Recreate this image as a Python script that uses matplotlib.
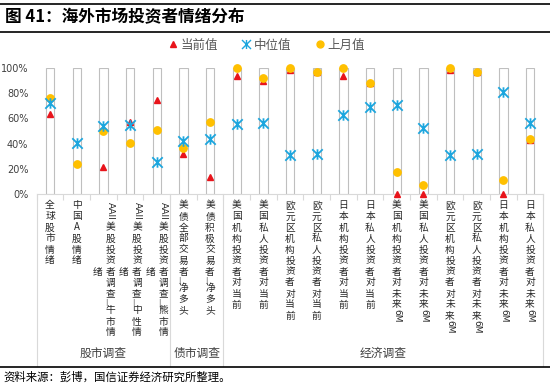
import re
import numpy as np
import matplotlib
matplotlib.use("Agg")
import matplotlib.pyplot as plt
from matplotlib.path import Path
from matplotlib.lines import Line2D
from matplotlib import transforms

plt.rcParams['font.family'] = ['Noto Sans CJK SC', 'DejaVu Sans']

# categories (x axis, level 1) and survey groups (level 2)
categories = [
    "全球股市情绪", "中国A股情绪",
    "AAII美股投资者调查_牛市情绪", "AAII美股投资者调查_中性情绪", "AAII美股投资者调查_熊市情绪",
    "美债全部交易者_净多头", "美债积极交易者_净多头",
    "美国机构投资者对当前", "美国私人投资者对当前",
    "欧元区机构投资者对当前", "欧元区私人投资者对当前",
    "日本机构投资者对当前", "日本私人投资者对当前",
    "美国机构投资者对未来6M", "美国私人投资者对未来6M",
    "欧元区机构投资者对未来6M", "欧元区私人投资者对未来6M",
    "日本机构投资者对未来6M", "日本私人投资者对未来6M",
]
groups = ["股市调查", "债市调查", "经济调查"]
group_sizes = [5, 2, 12]

nan = np.nan
# 当前值
current = [0.635, nan, 0.214, 0.574, 0.746, 0.315, 0.137, 0.939, 0.897, 0.984, 0.97,
           0.939, 0.884, 0.0, 0.0, 0.984, 0.97, 0.0, 0.425]
# 中位值
median = [0.72, 0.402, 0.54, 0.548, 0.257, 0.42, 0.434, 0.556, 0.566, 0.31, 0.317,
          0.627, 0.688, 0.706, 0.52, 0.31, 0.317, 0.812, 0.56]
# 上月值
last_month = [0.764, 0.235, 0.50, 0.402, 0.505, 0.368, 0.574, 1.0, 0.923, 1.0, 0.97,
              1.0, 0.884, 0.172, 0.07, 1.0, 0.97, 0.114, 0.434]
full_range = [1.0] * len(categories)

W, H = 550, 383
fig = plt.figure(figsize=(W / 100, H / 100), dpi=100)
ax = fig.add_axes([36.7 / W, (H - 194) / H, 506.7 / W, 126 / H])

x = np.arange(len(categories))
ax.bar(x, full_range, width=0.31, color="white", edgecolor="#BFBFBF", linewidth=0.8, zorder=1)

star = Path([(0, -1), (0, 1), (-1, -1), (1, 1), (-1, 1), (1, -1)],
            [Path.MOVETO, Path.LINETO] * 3)
red, blue, gold = "#E8141B", "#1CA6DE", "#FFC000"
ax.plot(x, current, ls="none", marker="^", ms=4.6, color=red, zorder=3, clip_on=False)
ax.plot(x, last_month, ls="none", marker="o", ms=5.3, color=gold, zorder=4, clip_on=False)
ax.plot(x, median, ls="none", marker=star, ms=7.5, mew=1.3, color=blue, mfc="none", zorder=5, clip_on=False)

ax.set_xlim(-0.5, len(categories) - 0.5)
ax.set_ylim(0, 1)
ax.set_yticks(np.arange(0, 1.01, 0.2))
ax.set_yticklabels([f"{int(round(v * 100))}%" for v in np.arange(0, 1.01, 0.2)], color="#404040", fontsize=7,
                   family="DejaVu Sans")
ax.tick_params(axis="y", length=0, pad=6)
ax.set_xticks(np.arange(-0.5, len(categories), 1))
ax.set_xticklabels([])
ax.tick_params(axis="x", length=4, color="#D9D9D9", width=0.8)
for s in ["left", "right", "top"]:
    ax.spines[s].set_visible(False)
ax.spines["bottom"].set_color("#D9D9D9")
ax.spines["bottom"].set_linewidth(0.8)

# multi-level category labels
bt = transforms.blended_transform_factory(ax.transData, fig.transFigure)


def fy(px):
    return 1 - px / H


def vertical_label(i, text, dx=0, top=200):
    tr = transforms.offset_copy(bt, fig=fig, x=dx, y=0, units="dots")
    y = top
    for tok in re.findall(r"AAII|6M|_|.", text):
        if tok in ("AAII", "6M"):
            size = 22 if tok == "AAII" else 12
            ax.text(i, fy(y + size / 2), tok, transform=tr, rotation=-90, ha="center", va="center",
                    fontsize=6.5, color="#262626", family="DejaVu Sans")
            y += size
        elif tok == "_":
            ax.text(i, fy(y + 3), "|", transform=transforms.offset_copy(tr, fig=fig, x=-4, y=0, units="dots"),
                    ha="center", va="center", fontsize=5, color="#595959", family="DejaVu Sans")
            y += 6
        else:
            ax.text(i, fy(y + 5.5), tok, transform=tr, ha="center", va="center",
                    fontsize=7, color="#262626")
            y += 11


for i, lab in enumerate(categories):
    if lab.startswith("AAII"):
        vertical_label(i, lab[:-1], dx=7)
        ax.text(i, fy(272), lab[-1], transform=transforms.offset_copy(bt, fig=fig, x=-6, y=0, units="dots"),
                ha="center", va="center", fontsize=7, color="#262626")
    else:
        vertical_label(i, lab)

edges = np.concatenate([[0], np.cumsum(group_sizes)]) - 0.5
for e in edges:
    ax.add_line(Line2D([e, e], [fy(194), fy(366)], transform=bt, color="#D9D9D9", lw=0.8, clip_on=False))
for g, a, b in zip(groups, edges[:-1], edges[1:]):
    ax.text((a + b) / 2, fy(353), g, transform=bt, ha="center", va="center", fontsize=8.5, color="#404040")

# legend
handles = [
    Line2D([], [], ls="none", marker="^", ms=4.5, color=red, label="当前值"),
    Line2D([], [], ls="none", marker=star, ms=6.5, mew=1, color=blue, label="中位值"),
    Line2D([], [], ls="none", marker="o", ms=5, color=gold, label="上月值"),
]
fig.legend(handles=handles, loc="center", bbox_to_anchor=(267 / W, fy(45)), ncol=3, frameon=False,
           fontsize=9, handlelength=0.6, handletextpad=0.3, columnspacing=2.0, labelcolor="#595959")

# title, rules and source
fig.add_artist(Line2D([0, 1], [fy(4), fy(4)], color="black", lw=1.2))
fig.add_artist(Line2D([0, 1], [fy(32), fy(32)], color="black", lw=1.2))
fig.add_artist(Line2D([0, 1], [fy(367), fy(367)], color="black", lw=1.2))
fig.text(5 / W, fy(17), "图 41：海外市场投资者情绪分布", fontsize=12, fontweight="bold", va="center", ha="left")
fig.text(3 / W, fy(377), "资料来源：彭博，国信证券经济研究所整理。", fontsize=8.2, va="center", ha="left")

fig.savefig("out.png", dpi=100, facecolor="white")
